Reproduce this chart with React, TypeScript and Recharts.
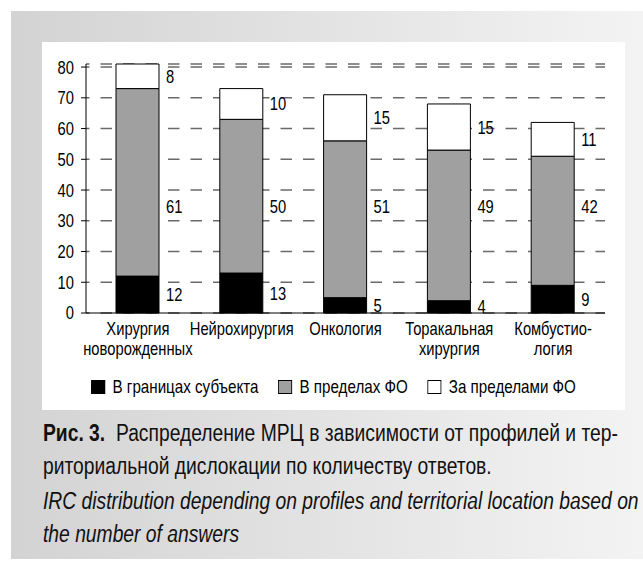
import { BarChart, Bar, XAxis, YAxis, CartesianGrid, Legend, LabelList } from 'recharts';

const categories = ['Хирургия\nноворожденных', 'Нейрохирургия', 'Онкология', 'Торакальная\nхирургия', 'Комбустио-\nлогия'];
const inSubject = [12, 13, 5, 4, 9];
const inFO = [61, 50, 51, 49, 42];
const outFO = [8, 10, 15, 15, 11];
const yTicks = [0, 10, 20, 30, 40, 50, 60, 70, 80];
const seriesNames = ['В границах субъекта', 'В пределах ФО', 'За пределами ФО'];
// the source puts all the "В пределах ФО" numbers on one level
const MID_LABEL_LEVEL = 34.5;

// no Arial Narrow here, so squeeze Liberation Sans horizontally
const FONT = "'Liberation Sans', Arial, sans-serif";
const NARROW = 0.82;
const FS = 18;

const data = categories.map((c, i) => ({
  name: c,
  subj: inSubject[i],
  fo: inFO[i],
  out: outFO[i],
}));

function NarrowText({ x, y, anchor, children, dy }: any) {
  return (
    <g transform={`translate(${x} ${y}) scale(${NARROW} 1)`}>
      <text x={0} y={0} dy={dy} textAnchor={anchor} fill="#000" fontSize={FS} fontFamily={FONT}>{children}</text>
    </g>
  );
}

function CategoryTick(props: any) {
  const { x, y, payload } = props;
  const lines = String(payload.value).split('\n');
  return (
    <g transform={`translate(${x} ${y}) scale(${NARROW} 1)`}>
      <text x={0} y={0} textAnchor="middle" fill="#000" fontSize={FS} fontFamily={FONT}>
        {lines.map((l, i) => (
          <tspan key={i} x={0} dy={i === 0 ? 22 : 20}>{l}</tspan>
        ))}
      </text>
    </g>
  );
}

function ValueTick(props: any) {
  const { x, y, payload } = props;
  return <NarrowText x={x} y={y} anchor="end" dy="0.36em">{payload.value}</NarrowText>;
}

function SegmentLabel(props: any) {
  const { x, y, width, height, value } = props;
  return <NarrowText x={x + width + 7} y={y + height / 2} anchor="start" dy="0.36em">{value}</NarrowText>;
}

// middle segment: label sits at MID_LABEL_LEVEL, converted with the segment's own px-per-unit
function MidLabel(props: any) {
  const { x, y, width, height, value, index } = props;
  const perUnit = height / value;
  const bottom = y + height;
  const ly = bottom - (MID_LABEL_LEVEL - inSubject[index]) * perUnit;
  return <NarrowText x={x + width + 7} y={ly} anchor="start" dy="0.36em">{value}</NarrowText>;
}

function LegendBox(props: any) {
  const items = props.payload || [];
  return (
    <div style={{ display: 'flex', justifyContent: 'center', height: 26 }}>
      <div style={{ display: 'flex', alignItems: 'center', gap: 24, fontFamily: FONT, fontSize: 18.5, color: '#000', transform: `scaleX(${NARROW})`, whiteSpace: 'nowrap' }}>
        {items.map((it: any) => (
          <div key={it.value} style={{ display: 'flex', alignItems: 'center', gap: 9 }}>
            <span style={{ display: 'inline-block', width: 15, height: 12, background: it.color, border: '1px solid #000' }} />
            <span>{it.value}</span>
          </div>
        ))}
      </div>
    </div>
  );
}

export default function App() {
  return (
    <div style={{ position: 'absolute', left: 0, top: 0, width: 643, height: 569, background: '#fff', overflow: 'hidden' }}>
      <div style={{ position: 'absolute', left: 11, top: 11, width: 632, height: 548, background: 'linear-gradient(to right, #d3d3d3, #f3f3f3)' }} />
      <div style={{ position: 'absolute', left: 42, top: 42, width: 583, height: 368, background: '#fff' }}>
        <BarChart width={583} height={368} data={data} margin={{ top: 22, right: 20, left: 4, bottom: 10 }} barSize={43}>
          <CartesianGrid vertical={false} stroke="#6a6a6a" strokeWidth={1.6} strokeDasharray="11.5 11" strokeDashoffset={8} />
          <XAxis dataKey="name" height={61} axisLine={{ stroke: '#000' }} tickLine={false} tickSize={0} tickMargin={0} interval={0} tick={CategoryTick} />
          <YAxis width={40} domain={[0, 80]} ticks={yTicks} axisLine={{ stroke: '#000' }} tickLine={{ stroke: '#000' }} tickSize={5} tickMargin={7} tick={ValueTick} />
          <Legend verticalAlign="bottom" content={LegendBox} wrapperStyle={{ left: 0, width: 583 }} />
          <Bar dataKey="subj" name={seriesNames[0]} stackId="a" fill="#000" stroke="#000" strokeWidth={1} isAnimationActive={false}>
            <LabelList dataKey="subj" content={SegmentLabel} />
          </Bar>
          <Bar dataKey="fo" name={seriesNames[1]} stackId="a" fill="#a0a0a0" stroke="#000" strokeWidth={1} isAnimationActive={false}>
            <LabelList dataKey="fo" content={MidLabel} />
          </Bar>
          <Bar dataKey="out" name={seriesNames[2]} stackId="a" fill="#fff" stroke="#000" strokeWidth={1} isAnimationActive={false}>
            <LabelList dataKey="out" content={SegmentLabel} />
          </Bar>
        </BarChart>
      </div>
      <div style={{ position: 'absolute', left: 43, top: 417, width: 600 / NARROW, transform: `scaleX(${NARROW})`, transformOrigin: 'left top', fontFamily: FONT, fontSize: 23.5, lineHeight: '33px', color: '#111', whiteSpace: 'nowrap' }}>
        <div><b>Рис. 3.</b>&nbsp; Распределение МРЦ в зависимости от профилей и тер-</div>
        <div>риториальной дислокации по количеству ответов.</div>
        <div style={{ fontStyle: 'italic', marginTop: 2 }}>IRC distribution depending on profiles and territorial location based on</div>
        <div style={{ fontStyle: 'italic' }}>the number of answers</div>
      </div>
    </div>
  );
}
